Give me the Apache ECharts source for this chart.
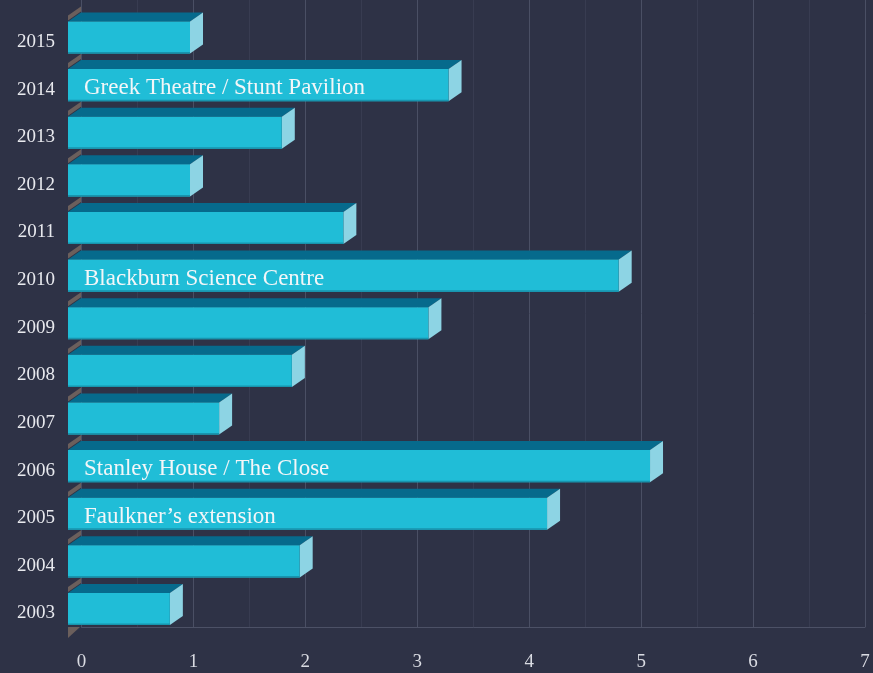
<!DOCTYPE html>
<html>
<head>
<meta charset="utf-8">
<script src="https://cdn.jsdelivr.net/npm/echarts@6/dist/echarts.min.js"></script>
<style>
html,body{margin:0;padding:0;background:#2e3246;}
#c{width:873px;height:673px;}
</style>
</head>
<body>
<div id="c"></div>
<script>
const years = ['2003','2004','2005','2006','2007','2008','2009','2010','2011','2012','2013','2014','2015'];
const values = [0.91, 2.07, 4.28, 5.2, 1.35, 2.0, 3.22, 4.92, 2.46, 1.09, 1.91, 3.40, 1.09];
const notes = ['', '', 'Faulkner\u2019s extension', 'Stanley House / The Close', '', '', '', 'Blackburn Science Centre', '', '', '', 'Greek Theatre / Stunt Pavilion', ''];
const xTicks = [0, 1, 2, 3, 4, 5, 6, 7];

const FONT = '"Liberation Serif", "DejaVu Serif", serif';
const DX = 13, DY = 9;

const chart = echarts.init(document.getElementById('c'));
chart.setOption({
  backgroundColor: '#2e3246',
  animation: false,
  grid: [
    { left: 68, right: 21.5, top: 13.7, bottom: 40.2 },
    { left: 81.5, right: 8, top: 0, bottom: 46 }
  ],
  xAxis: [
    { gridIndex: 0, type: 'value', min: 0, max: 7, interval: 1,
      axisLine: { show: false }, axisTick: { show: false },
      axisLabel: { show: false }, splitLine: { show: false } },
    { gridIndex: 1, type: 'value', min: xTicks[0], max: xTicks[xTicks.length - 1], interval: 1,
      axisLine: { show: true, lineStyle: { color: '#4c5166', width: 1 } },
      axisTick: { show: false },
      axisLabel: { show: true, margin: 26, color: '#d9dbe2', fontFamily: FONT, fontSize: 19 },
      splitLine: { show: true, lineStyle: { color: '#4a4f64', width: 1 } },
      minorTick: { show: false, splitNumber: 2 },
      minorSplitLine: { show: true, lineStyle: { color: '#383c51', width: 1 } } }
  ],
  yAxis: [
    { gridIndex: 0, type: 'category', data: years,
      axisLine: { show: false }, axisTick: { show: false },
      axisLabel: { margin: 13, color: '#e8e9ee', fontFamily: FONT, fontSize: 19,
        formatter: function (v) { return '{a|' + v + '}'; },
        rich: { a: { color: '#e8e9ee', fontFamily: FONT, fontSize: 19, padding: [9, 0, 0, 0] } } },
      splitLine: { show: false } },
    { gridIndex: 1, type: 'value', min: 0, max: 1, show: false }
  ],
  series: [{
    type: 'custom',
    xAxisIndex: 0, yAxisIndex: 0,
    data: values.map((v, i) => [v, i]),
    encode: { x: 0, y: 1 },
    renderItem: function (params, api) {
      const v = api.value(0), c = api.value(1);
      const note = notes[c];
      const p0 = api.coord([0, c]);
      const p1 = api.coord([v, c]);
      const band = api.size([0, 1])[1];
      const h = band * 0.675;
      const x0 = p0[0], x1 = p1[0];
      const yT = p0[1] - h / 2, yB = p0[1] + h / 2;
      const children = [];
      children.push({ type: 'polygon', shape: { points: [[x0, yT - 1], [x0 + DX, yT - DY - 1], [x0 + DX, yT - DY - 6], [x0, yT - 6]] },
        style: { fill: '#6b5f5c' } });
      if (c === 0) {
        children.push({ type: 'polygon', shape: { points: [[x0, yB + 2], [x0 + DX - 1, yB + 2], [x0, yB + 13]] },
          style: { fill: '#6b5f5c' } });
      }
      children.push({ type: 'polygon', shape: { points: [[x0, yT], [x1, yT], [x1 + DX, yT - DY], [x0 + DX, yT - DY]] },
        style: { fill: '#066a8c' } });
      children.push({ type: 'polygon', shape: { points: [[x1, yT], [x1 + DX, yT - DY], [x1 + DX, yB - DY], [x1, yB]] },
        style: { fill: '#8dd4e4' } });
      children.push({ type: 'rect', shape: { x: x0, y: yT, width: x1 - x0, height: h },
        style: { fill: '#20bdd7' } });
      children.push({ type: 'rect', shape: { x: x0, y: yB - 1.5, width: x1 - x0, height: 1.5 },
        style: { fill: '#1795ae' } });
      if (note) {
        children.push({ type: 'text', style: { text: note, x: x0 + 16, y: p0[1] + 3,
          fill: '#f3f6f8', font: '23px ' + FONT, verticalAlign: 'middle', align: 'left' } });
      }
      return { type: 'group', children: children };
    }
  }]
});
</script>
</body>
</html>
